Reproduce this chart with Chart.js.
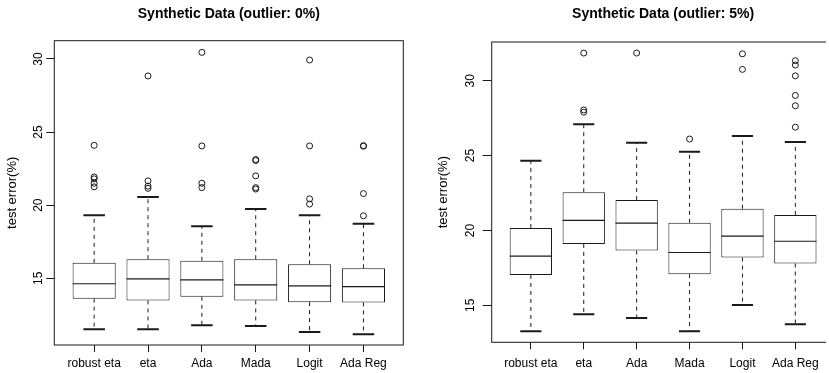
<!DOCTYPE html>
<html>
<head>
<meta charset="utf-8">
<script src="https://cdn.jsdelivr.net/npm/chart.js@4/dist/chart.umd.min.js"></script>
<style>
  html, body { margin: 0; padding: 0; background: #fff; overflow: hidden; }
  body { width: 829px; height: 373px; position: relative; }
  #wrapLeft { position: absolute; left: 0; top: 0; width: 414px; height: 373px; }
  #wrapRight { position: absolute; left: 414px; top: 0; width: 412px; height: 373px; overflow: hidden; }
  #chartRight { display: block; }
</style>
</head>
<body>
<div id="wrapLeft"><canvas id="chartLeft"></canvas></div>
<div id="wrapRight"><canvas id="chartRight" width="445" height="373"></canvas></div>
<script>
const categories = ["robust eta", "eta", "Ada", "Mada", "Logit", "Ada Reg"];
const yTicks = [15, 20, 25, 30];

// outlier 0%
const lower0 = [11.5, 11.5, 11.78, 11.73, 11.32, 11.16];
const q1_0 = [13.6, 13.48, 13.73, 13.48, 13.36, 13.34];
const median0 = [14.62, 14.96, 14.89, 14.55, 14.48, 14.43];
const q3_0 = [16.05, 16.3, 16.19, 16.3, 15.95, 15.68];
const upper0 = [19.3, 20.55, 18.55, 19.73, 19.3, 18.73];
const outliers0 = [
  [21.25, 21.5, 21.8, 21.93, 24.09],
  [21.15, 21.3, 21.66, 28.84],
  [21.2, 21.5, 24.05, 30.45],
  [21.1, 21.2, 22.0, 23.05, 23.12],
  [20.07, 20.43, 24.05, 29.93],
  [19.27, 20.79, 24.03, 24.07],
];

// outlier 5%
const lower5 = [13.26, 14.4, 14.16, 13.26, 15.02, 13.73];
const q1_5 = [17.03, 19.1, 18.66, 17.08, 18.19, 17.79];
const median5 = [18.28, 20.67, 20.49, 18.53, 19.62, 19.28];
const q3_5 = [20.17, 22.56, 22.03, 20.51, 21.45, 21.04];
const upper5 = [24.66, 27.09, 25.86, 25.26, 26.31, 25.91];
const outliers5 = [
  [],
  [27.9, 28.05, 31.85],
  [31.85],
  [26.11],
  [30.76, 31.8],
  [26.9, 28.33, 29.02, 30.33, 31.05, 31.34],
];

const FONT = "'Liberation Sans', Arial, Helvetica, sans-serif";
const INK = "#1a1a1a";

// medians, whiskers, staples, frame and rotated y labels
const boxParts = {
  id: "boxParts",
  afterDatasetsDraw(chart) {
    const st = chart.options.plugins.boxParts;
    const { ctx } = chart;
    const x = chart.scales.x;
    const y = chart.scales.y;
    ctx.save();
    ctx.strokeStyle = INK;
    categories.forEach((c, i) => {
      const cx = x.getPixelForValue(i + 1);
      const half = x.getPixelForValue(i + 1 + 0.4) - cx;
      const cap = x.getPixelForValue(i + 1 + 0.2) - cx;
      // whiskers
      ctx.setLineDash([4, 4]);
      ctx.lineWidth = 1;
      ctx.beginPath();
      ctx.moveTo(cx, y.getPixelForValue(st.q3[i]));
      ctx.lineTo(cx, y.getPixelForValue(st.hi[i]));
      ctx.moveTo(cx, y.getPixelForValue(st.q1[i]));
      ctx.lineTo(cx, y.getPixelForValue(st.lo[i]));
      ctx.stroke();
      ctx.setLineDash([]);
      // staples
      ctx.lineWidth = 2;
      ctx.beginPath();
      ctx.moveTo(cx - cap, y.getPixelForValue(st.hi[i]));
      ctx.lineTo(cx + cap, y.getPixelForValue(st.hi[i]));
      ctx.moveTo(cx - cap, y.getPixelForValue(st.lo[i]));
      ctx.lineTo(cx + cap, y.getPixelForValue(st.lo[i]));
      ctx.stroke();
      // median
      ctx.lineWidth = 1.2;
      ctx.beginPath();
      ctx.moveTo(cx - half, y.getPixelForValue(st.med[i]));
      ctx.lineTo(cx + half, y.getPixelForValue(st.med[i]));
      ctx.stroke();
    });
    ctx.restore();
  },
  afterDraw(chart) {
    const st = chart.options.plugins.boxParts;
    const { ctx, chartArea: a } = chart;
    const y = chart.scales.y;
    ctx.save();
    ctx.strokeStyle = INK;
    ctx.lineWidth = 1;
    ctx.strokeRect(a.left, a.top, a.right - a.left, a.bottom - a.top);
    ctx.fillStyle = "#000";
    ctx.font = "12px " + FONT;
    ctx.textAlign = "center";
    ctx.textBaseline = "middle";
    yTicks.forEach((t) => {
      ctx.save();
      ctx.translate(a.left - st.labelOffset, y.getPixelForValue(t));
      ctx.rotate(-Math.PI / 2);
      ctx.fillText(String(t), 0, 0);
      ctx.restore();
    });
    ctx.restore();
  },
};

function makeBoxChart(id, title, lo, q1, med, q3, hi, outs, cfg) {
  const boxes = categories.map((c, i) => ({ x: i + 1, y: [q1[i], q3[i]] }));
  const points = [];
  outs.forEach((list, i) => list.forEach((v) => points.push({ x: i + 1, y: v })));

  new Chart(document.getElementById(id), {
    type: "bar",
    data: {
      datasets: [
        {
          data: boxes,
          backgroundColor: "#fff",
          borderColor: INK,
          borderWidth: 1,
          borderSkipped: false,
          barPercentage: 0.8,
          categoryPercentage: 1,
        },
        {
          type: "scatter",
          data: points,
          pointRadius: 3,
          pointHoverRadius: 3,
          pointBorderWidth: 1,
          pointBackgroundColor: "rgba(0,0,0,0)",
          pointBorderColor: INK,
        },
      ],
    },
    options: {
      responsive: cfg.responsive,
      maintainAspectRatio: false,
      animation: false,
      events: [],
      layout: { padding: { left: 0, right: cfg.rightPad, top: 0, bottom: 0 } },
      plugins: {
        legend: { display: false },
        tooltip: { enabled: false },
        title: {
          display: true,
          text: title,
          fullSize: false,
          color: "#000",
          font: { family: FONT, size: 14, weight: "bold" },
          padding: { top: 5.6, bottom: cfg.titleBottom },
        },
        boxParts: { lo, q1, med, q3, hi, labelOffset: cfg.labelOffset },
      },
      scales: {
        x: {
          type: "linear",
          min: 0.26,
          max: 6.74,
          offset: false,
          afterBuildTicks: (s) => {
            s.ticks = categories.map((c, i) => ({ value: i + 1 }));
          },
          afterFit: (s) => {
            s.height = cfg.xHeight;
          },
          border: { display: false },
          grid: {
            display: true,
            offset: false,
            drawOnChartArea: false,
            drawTicks: true,
            tickLength: 7,
            color: INK,
          },
          ticks: {
            autoSkip: false,
            maxRotation: 0,
            padding: cfg.xPad,
            color: "#000",
            font: { family: FONT, size: 12 },
            callback: (v) => categories[v - 1],
          },
        },
        y: {
          min: cfg.yMin,
          max: cfg.yMax,
          afterBuildTicks: (s) => {
            s.ticks = yTicks.map((v) => ({ value: v }));
          },
          afterFit: (s) => {
            s.width = cfg.yWidth;
          },
          border: { display: false },
          grid: {
            display: true,
            drawOnChartArea: false,
            drawTicks: true,
            tickLength: cfg.tickLen,
            color: INK,
          },
          ticks: { display: false },
          title: {
            display: true,
            text: "test error(%)",
            color: "#000",
            font: { family: FONT, size: 13 },
            padding: { top: cfg.yTitlePad, bottom: 0 },
          },
        },
      },
    },
    plugins: [boxParts],
  });
}

makeBoxChart("chartLeft", "Synthetic Data (outlier: 0%)",
  lower0, q1_0, median0, q3_0, upper0, outliers0,
  { responsive: true, rightPad: 10.7, yWidth: 54.3, xHeight: 28, xPad: 4, titleBottom: 18.3,
    yMin: 10.43, yMax: 31.25, labelOffset: 16, tickLen: 8, yTitlePad: 4.2 });

// right panel runs past the window edge, as in the original
makeBoxChart("chartRight", "Synthetic Data (outlier: 5%)",
  lower5, q1_5, median5, q3_5, upper5, outliers5,
  { responsive: false, rightPad: 24.5, yWidth: 77.7, xHeight: 30.7, xPad: 7, titleBottom: 19.6,
    yMin: 12.53, yMax: 32.59, labelOffset: 21, tickLen: 9, yTitlePad: 21.2 });
</script>
</body>
</html>
